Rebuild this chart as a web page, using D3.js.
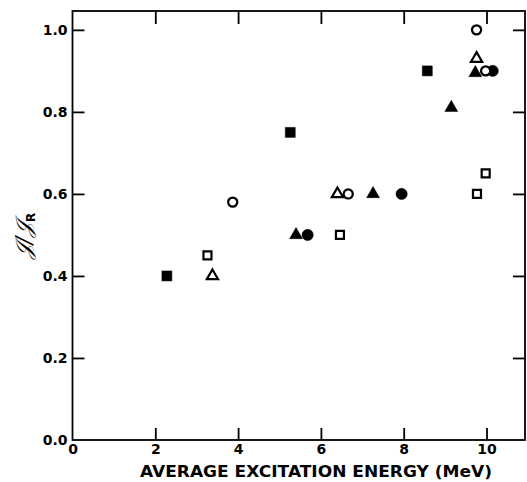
<!DOCTYPE html>
<html>
<head>
<meta charset="utf-8">
<script src="https://cdn.jsdelivr.net/npm/d3@7"></script>
<style>
  html, body { margin: 0; padding: 0; background: #fff; }
  svg { display: block; }
  .tick text { font-family: "DejaVu Sans", sans-serif; font-weight: bold; font-size: 14px; fill: #000; }
</style>
</head>
<body>
<svg id="chart" width="527" height="482"></svg>
<script>
// ---- data ----
const xTicks = [0, 2, 4, 6, 8, 10];
const yTicks = [0.0, 0.2, 0.4, 0.6, 0.8, 1.0];

const filledSquareX = [2.28, 5.26, 8.57];
const filledSquareY = [0.40, 0.75, 0.90];
const filledTriangleX = [5.40, 7.26, 9.15, 9.73];
const filledTriangleY = [0.50, 0.60, 0.81, 0.895];
const filledCircleX = [5.68, 7.95, 10.15];
const filledCircleY = [0.50, 0.60, 0.90];
const openSquareX = [3.26, 6.46, 9.77, 9.98];
const openSquareY = [0.45, 0.50, 0.60, 0.65];
const openTriangleX = [3.38, 6.40, 9.76];
const openTriangleY = [0.40, 0.60, 0.93];
const openCircleX = [3.87, 6.66, 9.76, 9.98];
const openCircleY = [0.58, 0.60, 1.00, 0.90];

const xLabel = "AVERAGE EXCITATION ENERGY (MeV)";

// ---- layout ----
const svg = d3.select("#chart");
const mLeft = 72.5, mRight = 525, mTop = 11, mBottom = 440;
const x = d3.scaleLinear().domain([0, 10.93]).range([mLeft, mRight]);
const y = d3.scaleLinear().domain([0, 1.046]).range([mBottom, mTop]);

// frame
svg.append("rect")
  .attr("x", mLeft).attr("y", mTop)
  .attr("width", mRight - mLeft).attr("height", mBottom - mTop)
  .attr("fill", "none").attr("stroke", "#000").attr("stroke-width", 1.8);

function styleAxis(g) {
  g.select(".domain").remove();
  g.selectAll(".tick line").attr("stroke", "#000").attr("stroke-width", 1.8);
}

// bottom axis
svg.append("g").attr("transform", `translate(0,${mBottom})`)
  .call(d3.axisBottom(x).tickValues(xTicks).tickSize(-12).tickSizeOuter(0).tickPadding(4)
    .tickFormat(d3.format("d")))
  .call(styleAxis)
  .call(g => g.selectAll(".tick").filter(d => d === 0).select("line").remove());

// top axis
svg.append("g").attr("transform", `translate(0,${mTop})`)
  .call(d3.axisTop(x).tickValues(xTicks.filter(d => d > 0)).tickSize(-13).tickSizeOuter(0).tickFormat(""))
  .call(styleAxis);

// left axis
svg.append("g").attr("transform", `translate(${mLeft},0)`)
  .call(d3.axisLeft(y).tickValues(yTicks).tickSize(-12).tickSizeOuter(0).tickPadding(5)
    .tickFormat(d3.format(".1f")))
  .call(styleAxis)
  .call(g => g.selectAll(".tick").filter(d => d === 0).select("line").remove());

// right axis
svg.append("g").attr("transform", `translate(${mRight},0)`)
  .call(d3.axisRight(y).tickValues(yTicks.filter(d => d > 0)).tickSize(-12).tickSizeOuter(0).tickFormat(""))
  .call(styleAxis);

// x label
svg.append("text")
  .attr("x", 140).attr("y", 477)
  .attr("textLength", 352).attr("lengthAdjust", "spacingAndGlyphs")
  .attr("font-family", "DejaVu Sans, sans-serif").attr("font-weight", "bold").attr("font-size", 16)
  .text(xLabel);

// y label
const yl = svg.append("text")
  .attr("transform", "translate(31,236) rotate(-90)")
  .attr("text-anchor", "middle")
  .attr("font-family", "DejaVu Serif, serif").attr("font-style", "italic").attr("font-size", 22);
yl.append("tspan").text("\u{1D4A5}/\u{1D4A5}");
yl.append("tspan").attr("font-size", 12).attr("font-weight", "bold").attr("font-style", "normal")
  .attr("font-family", "DejaVu Sans, sans-serif").attr("dy", 4).text("R");

// markers
function zip(xs, ys) { return xs.map((v, i) => ({ x: v, y: ys[i] })); }
function draw(data, type, size, filled) {
  svg.append("g").selectAll("path").data(data).join("path")
    .attr("transform", d => `translate(${x(d.x)},${y(d.y)})`)
    .attr("d", d3.symbol().type(type).size(size)())
    .attr("fill", filled ? "#000" : "#fff")
    .attr("stroke", "#000")
    .attr("stroke-width", filled ? 0.5 : 2.2);
}
draw(zip(filledSquareX, filledSquareY), d3.symbolSquare, 100, true);
draw(zip(filledTriangleX, filledTriangleY), d3.symbolTriangle, 72, true);
draw(zip(filledCircleX, filledCircleY), d3.symbolCircle, 100, true);
draw(zip(openSquareX, openSquareY), d3.symbolSquare, 64, false);
draw(zip(openTriangleX, openTriangleY), d3.symbolTriangle, 54, false);
draw(zip(openCircleX, openCircleY), d3.symbolCircle, 66, false);
</script>
</body>
</html>
